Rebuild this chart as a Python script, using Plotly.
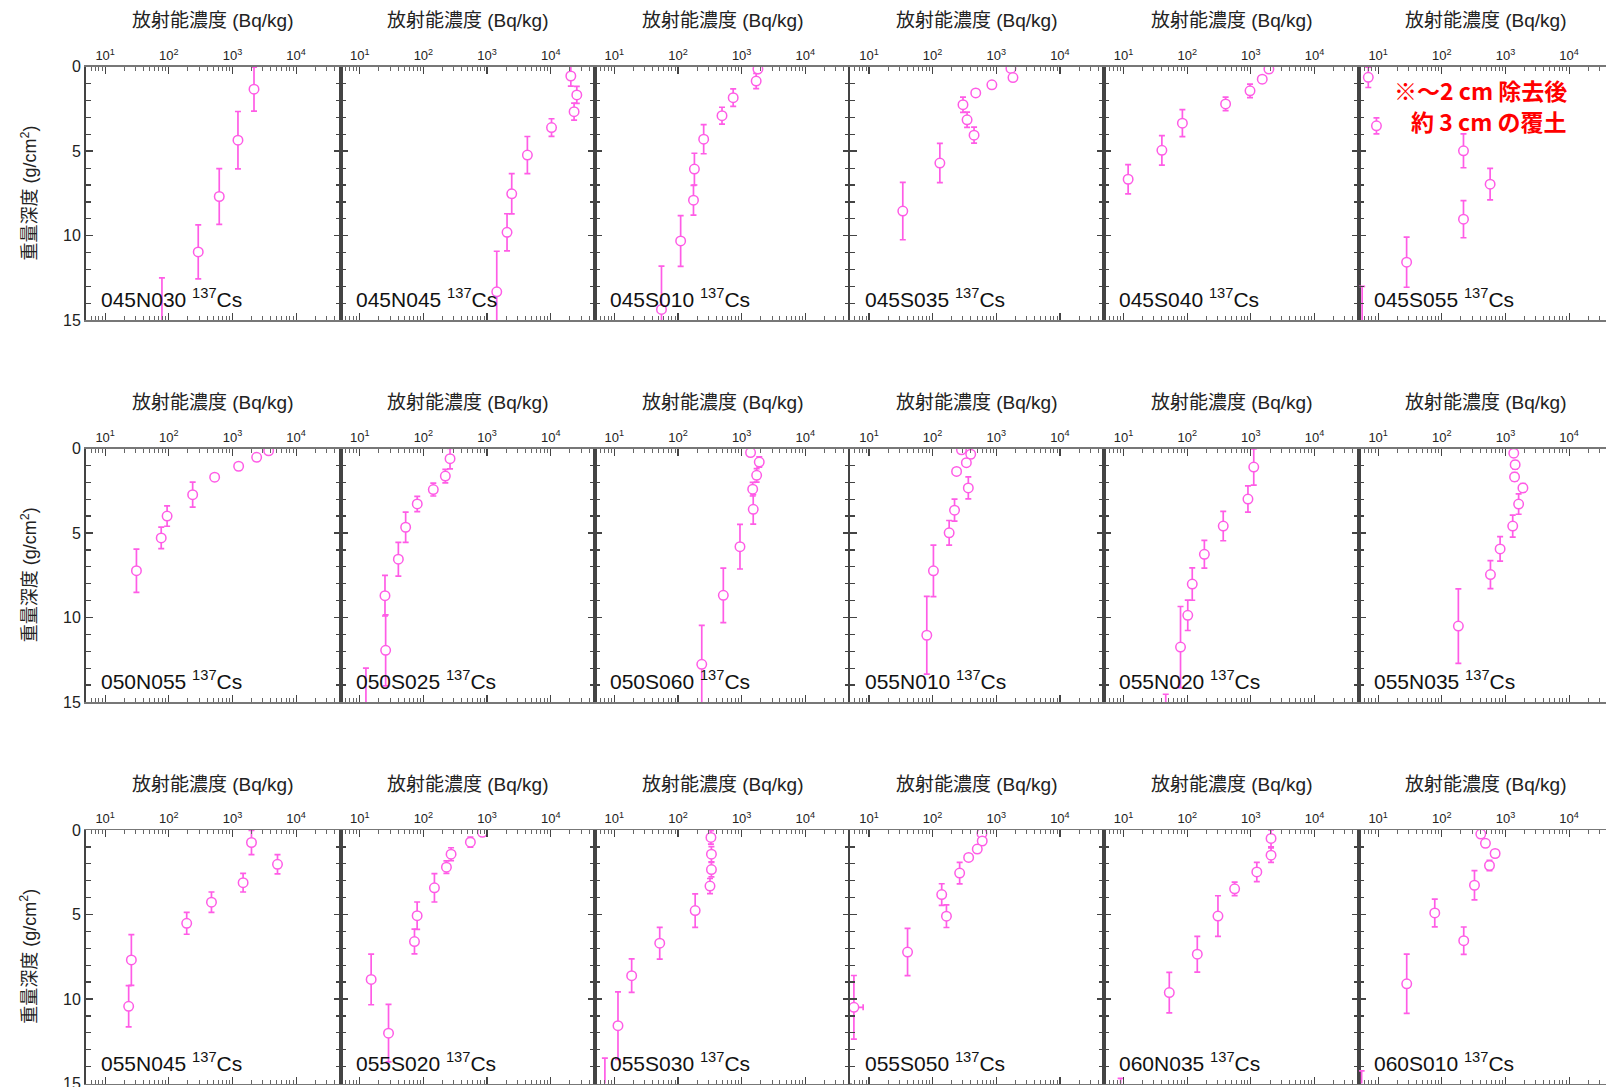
import math
import plotly.graph_objects as go

# ---------------- data ----------------
names = ["045N030", "045N045", "045S010", "045S035", "045S040", "045S055",
         "050N055", "050S025", "050S060", "055N010", "055N020", "055N035",
         "055N045", "055S020", "055S030", "055S050", "060N035", "060S010"]

conc_045N030 = [2180, 1220, 620, 290, 78]
depth_045N030 = [1.33, 4.35, 7.68, 10.96, 16.0]
err_045N030 = [1.3, 1.7, 1.65, 1.6, 3.5]

conc_045N045 = [20700, 25700, 23300, 10300, 4300, 2440, 2060, 1420]
depth_045N045 = [0.55, 1.67, 2.66, 3.6, 5.23, 7.52, 9.8, 13.32]
err_045N045 = [0.6, 0.5, 0.5, 0.52, 1.1, 1.19, 1.1, 2.4]

conc_045S010 = [1800, 1690, 736, 491, 253, 181, 175, 110, 55]
depth_045S010 = [0.14, 0.85, 1.83, 2.9, 4.29, 6.06, 7.9, 10.31, 14.36]
err_045S010 = [0.14, 0.45, 0.52, 0.5, 0.86, 0.94, 0.88, 1.5, 2.56]

conc_045S035 = [1700, 1830, 853, 476, 300, 348, 448, 130, 34]
depth_045S035 = [0.1, 0.64, 1.07, 1.55, 2.25, 3.14, 4.05, 5.70, 8.54]
err_045S035 = [0.1, 0.2, 0.2, 0.2, 0.45, 0.45, 0.47, 1.16, 1.7]

conc_045S040 = [1920, 1510, 970, 401, 84, 40, 11.8]
depth_045S040 = [0.14, 0.74, 1.43, 2.2, 3.34, 4.95, 6.66]
err_045S040 = [0.14, 0.2, 0.4, 0.4, 0.8, 0.87, 0.86]

conc_045S055 = [7.0, 9.4, 219, 574, 219, 28, 5.6]
depth_045S055 = [0.63, 3.5, 4.98, 6.95, 9.02, 11.57, 16.0]
err_045S055 = [0.6, 0.47, 1.0, 0.93, 1.1, 1.48, 3.0]

conc_050N055 = [3700, 2400, 1250, 525, 237, 94, 76, 31]
depth_050N055 = [0.14, 0.52, 1.05, 1.70, 2.73, 4.0, 5.29, 7.23]
err_050N055 = [0.14, 0.2, 0.2, 0.2, 0.74, 0.6, 0.64, 1.28]

conc_050S025 = [262, 221, 143, 80, 52.6, 40.4, 24.9, 25.5, 12.5]
depth_050S025 = [0.6, 1.63, 2.43, 3.28, 4.66, 6.55, 8.71, 11.94, 16.5]
err_050S025 = [0.6, 0.4, 0.38, 0.45, 0.9, 1.0, 1.2, 2.1, 3.5]

conc_050S060 = [1380, 1890, 1720, 1490, 1520, 941, 515, 236]
depth_050S060 = [0.24, 0.8, 1.59, 2.41, 3.6, 5.81, 8.69, 12.77]
err_050S060 = [0.2, 0.3, 0.4, 0.4, 0.87, 1.32, 1.61, 2.3]

conc_055N010 = [284, 397, 339, 238, 364, 221, 182, 103, 81]
depth_055N010 = [0.08, 0.34, 0.84, 1.36, 2.33, 3.65, 4.99, 7.24, 11.05]
err_055N010 = [0.08, 0.2, 0.2, 0.2, 0.65, 0.65, 0.73, 1.52, 2.3]

conc_055N020 = [1110, 900, 368, 186, 120, 102, 78.5, 46]
depth_055N020 = [1.1, 2.99, 4.59, 6.26, 8.02, 9.87, 11.75, 16.5]
err_055N020 = [1.07, 0.78, 0.87, 0.82, 0.96, 0.9, 2.4, 1.96]

conc_055N035 = [1350, 1420, 1390, 1880, 1610, 1300, 824, 581, 182]
depth_055N035 = [0.28, 0.96, 1.68, 2.33, 3.29, 4.59, 5.94, 7.46, 10.51]
err_055N035 = [0.2, 0.25, 0.25, 0.25, 0.6, 0.65, 0.72, 0.83, 2.2]

conc_055N045 = [1990, 5100, 1470, 468, 191, 25.8, 23.4]
depth_055N045 = [0.74, 2.03, 3.12, 4.27, 5.52, 7.69, 10.43]
err_055N045 = [0.72, 0.57, 0.55, 0.6, 0.65, 1.5, 1.22]

conc_055S020 = [844, 547, 272, 230, 149, 79.7, 72.4, 15.1, 28.3]
depth_055S020 = [0.14, 0.72, 1.43, 2.2, 3.42, 5.07, 6.6, 8.84, 12.02]
err_055S020 = [0.14, 0.3, 0.38, 0.37, 0.84, 0.81, 0.73, 1.5, 1.7]

conc_055S030 = [329, 335, 335, 318, 186, 51.6, 18.7, 11.4, 7.1]
depth_055S030 = [0.44, 1.43, 2.34, 3.32, 4.77, 6.7, 8.62, 11.58, 16.5]
err_055S030 = [0.4, 0.45, 0.43, 0.45, 0.99, 0.94, 0.99, 2.0, 3.0]

conc_055S050 = [596, 602, 503, 368, 266, 139, 165, 40.4, 5.8]
depth_055S050 = [0.2, 0.65, 1.13, 1.62, 2.55, 3.82, 5.1, 7.22, 10.49]
err_055S050 = [0.2, 0.2, 0.2, 0.2, 0.64, 0.64, 0.67, 1.4, 1.88]
xerr_055S050 = [0, 0, 0, 0, 0, 0, 0, 0, 2.3]

conc_060N035 = [2075, 2075, 1240, 556, 304, 144, 52.3, 9.0]
depth_060N035 = [0.5, 1.49, 2.48, 3.48, 5.09, 7.35, 9.62, 16.5]
err_060N035 = [0.5, 0.43, 0.57, 0.4, 1.2, 1.06, 1.2, 1.8]

conc_060S010 = [410, 485, 688, 561, 326, 77.5, 221, 28.1, 5.5]
depth_060S010 = [0.24, 0.79, 1.39, 2.1, 3.27, 4.91, 6.55, 9.1, 16.5]
err_060S010 = [0.2, 0.2, 0.2, 0.3, 0.87, 0.82, 0.81, 1.75, 2.25]

x_tickvals = [10, 100, 1000, 10000]
x_ticktext = ["10<sup>1</sup>", "10<sup>2</sup>", "10<sup>3</sup>", "10<sup>4</sup>"]
y_tickvals = [0, 5, 10, 15]
x_title = "放射能濃度 (Bq/kg)"
y_title = "重量深度 (g/cm<sup>2</sup>)"
note_lines = ["※～2 cm 除去後", "約 3 cm の覆土"]

series = {
    "045N030": (conc_045N030, depth_045N030, err_045N030),
    "045N045": (conc_045N045, depth_045N045, err_045N045),
    "045S010": (conc_045S010, depth_045S010, err_045S010),
    "045S035": (conc_045S035, depth_045S035, err_045S035),
    "045S040": (conc_045S040, depth_045S040, err_045S040),
    "045S055": (conc_045S055, depth_045S055, err_045S055),
    "050N055": (conc_050N055, depth_050N055, err_050N055),
    "050S025": (conc_050S025, depth_050S025, err_050S025),
    "050S060": (conc_050S060, depth_050S060, err_050S060),
    "055N010": (conc_055N010, depth_055N010, err_055N010),
    "055N020": (conc_055N020, depth_055N020, err_055N020),
    "055N035": (conc_055N035, depth_055N035, err_055N035),
    "055N045": (conc_055N045, depth_055N045, err_055N045),
    "055S020": (conc_055S020, depth_055S020, err_055S020),
    "055S030": (conc_055S030, depth_055S030, err_055S030),
    "055S050": (conc_055S050, depth_055S050, err_055S050),
    "060N035": (conc_060N035, depth_060N035, err_060N035),
    "060S010": (conc_060S010, depth_060S010, err_060S010),
}
xerrs = {"055S050": xerr_055S050}

# ---------------- layout geometry ----------------
W, H = 1606, 1087
LEFT0 = 86.0
PW = 254.6
PH = 253.5
ROW_TOPS = [66.7, 448.5, 830.0]
LOGMIN = math.log10(5)
PINK = "#ff5ce6"
FONT = "Liberation Sans, Arial, Noto Sans CJK JP, sans-serif"
AXC = "#444444"

minor_vals = [m * 10 ** d for d in range(0, 5) for m in range(2, 10)]

fig = go.Figure()
layout = dict(
    width=W, height=H, autosize=False,
    margin=dict(l=0, r=0, t=0, b=0, pad=0, autoexpand=False),
    paper_bgcolor="white", plot_bgcolor="white",
    showlegend=False,
    font=dict(family=FONT, color="#222222"),
)
annotations = []

for idx, name in enumerate(names):
    r, c = divmod(idx, 6)
    k = idx + 1
    xs = "" if k == 1 else str(k)
    conc, depth, err = series[name]
    xl = LEFT0 + c * PW
    xr = min(xl + PW, W)
    xmax = LOGMIN + (xr - xl) / PW * 4
    top = ROW_TOPS[r]
    bot = top + PH

    trace = dict(
        x=conc, y=depth, mode="markers",
        xaxis="x" + xs, yaxis="y" + xs,
        marker=dict(symbol="circle", size=9.5, color="white",
                    line=dict(color=PINK, width=1.5)),
        error_y=dict(type="data", array=err, visible=True,
                     color=PINK, thickness=1.7, width=3),
        hoverinfo="x+y",
    )
    if name in xerrs:
        trace["error_x"] = dict(type="data", symmetric=False, array=xerrs[name],
                                arrayminus=[0] * len(xerrs[name]), visible=True,
                                color=PINK, thickness=1.7, width=3)
    fig.add_trace(go.Scatter(**trace))

    layout["xaxis" + xs] = dict(
        type="log", range=[LOGMIN, xmax], side="top",
        domain=[xl / W, xr / W], anchor="y" + xs, automargin=False,
        showgrid=False, zeroline=False,
        showline=True, linecolor="#777777", linewidth=1.5, mirror="ticks",
        ticks="inside", ticklen=7, tickwidth=1.2, tickcolor=AXC,
        tickmode="array", tickvals=x_tickvals, ticktext=x_ticktext,
        tickfont=dict(size=13, family=FONT, color="#222222"),
        ticklabeloverflow="allow",
        minor=dict(tickmode="array", tickvals=minor_vals, ticks="inside",
                   ticklen=4, tickwidth=1, tickcolor="#666666", showgrid=False),
        fixedrange=True,
    )
    layout["yaxis" + xs] = dict(
        range=[15, 0], domain=[1 - bot / H, 1 - top / H], anchor="x" + xs,
        automargin=False,
        showgrid=False, zeroline=False,
        showline=True, linecolor=AXC, linewidth=2,
        mirror=("ticks" if c < 5 else False),
        ticks="inside", ticklen=7, tickwidth=1.5, tickcolor=AXC,
        tickmode="array", tickvals=y_tickvals,
        showticklabels=(c == 0),
        tickfont=dict(size=16, family=FONT, color="#222222"),
        ticklabeloverflow="allow",
        minor=dict(dtick=1, ticks="inside", ticklen=5, tickwidth=1.2,
                   tickcolor=AXC, showgrid=False),
        fixedrange=True,
    )

    # panel label
    annotations.append(dict(
        text=name + " <sup>137</sup>Cs", xref="paper", yref="paper",
        x=(xl + 13) / W, y=1 - (bot - 7) / H, xanchor="left", yanchor="bottom",
        showarrow=False, font=dict(size=21, family=FONT, color="#111111"),
    ))
    # x axis title
    annotations.append(dict(
        text=x_title, xref="paper", yref="paper",
        x=(LEFT0 + c * PW + PW / 2) / W, y=1 - (top - 46) / H,
        xanchor="center", yanchor="middle", showarrow=False,
        font=dict(size=19, family=FONT, color="#222222"),
    ))

for r in range(3):
    annotations.append(dict(
        text=y_title, xref="paper", yref="paper",
        x=29 / W, y=1 - (ROW_TOPS[r] + PH / 2) / H,
        xanchor="center", yanchor="middle", textangle=-90, showarrow=False,
        font=dict(size=18, family=FONT, color="#222222"),
    ))

note_x = [1480, 1489]
note_y = [90, 121]
for i, line in enumerate(note_lines):
    annotations.append(dict(
        text="<b>" + line + "</b>", xref="paper", yref="paper",
        x=note_x[i] / W, y=1 - note_y[i] / H, xanchor="center", yanchor="middle",
        showarrow=False,
        font=dict(size=23, family="Noto Sans CJK JP, sans-serif", color="#ff0000"),
    ))

layout["annotations"] = annotations
fig.update_layout(**layout)

page_fix = ("document.documentElement.style.margin='0';"
            "document.documentElement.style.overflow='hidden';"
            "document.body.style.margin='0';"
            "document.body.style.padding='0';"
            "document.body.style.overflow='hidden';")
fig.write_html("out.html", post_script=page_fix,
               config={"displayModeBar": False, "staticPlot": True})
